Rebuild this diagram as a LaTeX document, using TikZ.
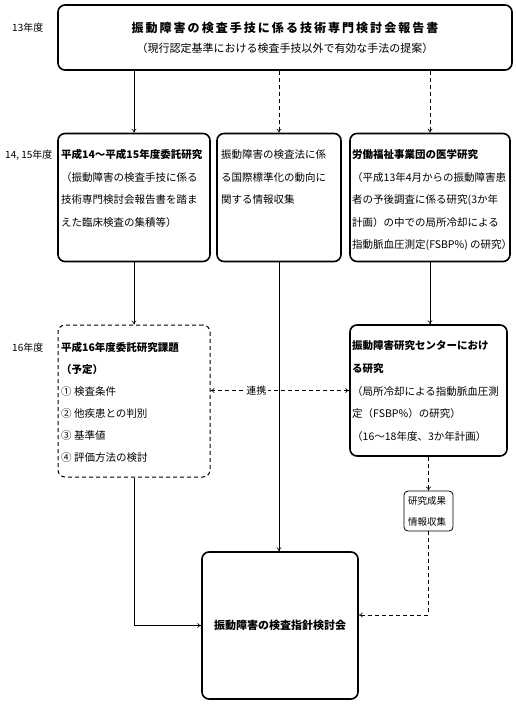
\documentclass[tikz,border=0pt]{standalone}
\usepackage{fontspec}
\setmainfont{Noto Sans CJK JP}
\usetikzlibrary{positioning}
\usetikzlibrary{arrows.meta}

\tikzset{
  bigbox/.style={draw, line width=1.6pt, rounded corners=7pt, inner sep=0pt},
  planbox/.style={draw, line width=1pt, dash pattern=on 4pt off 3pt, rounded corners=7pt, inner sep=0pt},
  smallbox/.style={draw, line width=0.8pt, rounded corners=4pt, inner sep=0pt},
  txt/.style={anchor=north west, inner sep=0pt, align=left, font=\fontsize{10.5}{22.5}\selectfont},
  year/.style={anchor=west, inner sep=0pt, font=\fontsize{10}{12}\selectfont},
  link/.style={draw, line width=0.6pt, -{To[length=4pt,width=5pt]}},
  dlink/.style={link, dash pattern=on 4pt off 3pt}
}

\begin{document}
\begin{tikzpicture}[x=1pt,y=-1pt]
\useasboundingbox (0,0) rectangle (516,705);

% year labels
\node[year] (y13) at (12,28) {13年度};
\node[year] (y15) at (5,155) {14, 15年度};
\node[year] (y16) at (12,348) {16年度};

% report of 13
\node[bigbox, minimum width=454, minimum height=65] (rep) at (285,37.5) {};
\node[inner sep=0pt, font=\fontsize{12}{14}\selectfont\bfseries\addfontfeature{LetterSpace=17}] (rep-a) at (rep.center |- 0,28) {振動障害の検査手技に係る技術専門検討会報告書};
\node[inner sep=0pt, font=\fontsize{11}{14}\selectfont] (rep-b) at (rep.center |- 0,48) {（現行認定基準における検査手技以外で有効な手法の提案）};

% 14, 15
\node[bigbox, minimum width=152, minimum height=128] (b1) at (134,197.5) {};
\node[bigbox, minimum width=124, minimum height=128] (b2) at (279,197.5) {};
\node[bigbox, minimum width=160, minimum height=128] (b3) at (430,197.5) {};
\node[txt] (t1) at (61,149.5) {{\bfseries 平成14～平成15年度委託研究}\\
  （振動障害の検査手技に係る\\技術専門検討会報告書を踏ま\\えた臨床検査の集積等）};
\node[txt] (t2) at (221,149.5) {振動障害の検査法に係\\る国際標準化の動向に\\関する情報収集};
\node[txt] (t3) at (352,149.5) {{\bfseries 労働福祉事業団の医学研究}\\
  （平成13年4月からの振動障害患\\者の予後調査に係る研究(3か年\\計画）の中での局所冷却による\\指動脈血圧測定(FSBP\%) の研究）};

% 16
\node[planbox, minimum width=152, minimum height=152] (c1) at (134,401) {};
\node[bigbox, minimum width=157, minimum height=131] (c2) at (428.5,390.5) {};
\node[txt, font=\fontsize{10.5}{22}\selectfont] (t4) at (61,342.5) {{\bfseries 平成16年度委託研究課題}\\{\bfseries （予定）}\\
  ①\ 検査条件\\②\ 他疾患との判別\\③\ 基準値\\④\ 評価方法の検討};
\node[txt, font=\fontsize{10.5}{22.75}\selectfont] (t5) at (352,340.5) {{\bfseries 振動障害研究センターにおけ}\\{\bfseries る研究}\\
  （局所冷却による指動脈血圧測\\定（FSBP\%）の研究）\\（16～18年度、3か年計画）};
\node[smallbox, minimum width=49, minimum height=40] (d) at (428.5,511) {};
\node[txt, font=\fontsize{9.5}{21}\selectfont] (td) at (408,496) {研究成果\\情報収集};

% guideline meeting
\node[bigbox, minimum width=156, minimum height=147,
  font=\fontsize{11}{14}\selectfont\bfseries] (fin) at (280,625.5) {振動障害の検査指針検討会};

% connectors
\draw[link] (rep.south -| b1.north) -- (b1.north);
\draw[dlink] (rep.south -| b2.north) -- (b2.north);
\draw[dlink] (rep.south -| b3.north) -- (b3.north);
\draw[link] (b1.south) -- (c1.north);
\draw[link] (b3.south) -- (b3.south |- c2.north);
\draw[link] (b2.south) -- (b2.south |- fin.north);
\draw[dlink, {To[length=4pt,width=5pt]}-{To[length=4pt,width=5pt]}] (c1.east |- c2.west) -- (c2.west)
  node[pos=0.33, fill=white, inner sep=2pt, font=\fontsize{10}{12}\selectfont] (lk) {連携};
\draw[dlink] (c2.south) -- (d.north);
\coordinate (dj) at (428.5,615);
\draw[dlink] (d.south) -- (dj) -- (dj -| fin.east);
\draw[link] (c1.south) |- (fin.west);

\end{tikzpicture}
\end{document}
